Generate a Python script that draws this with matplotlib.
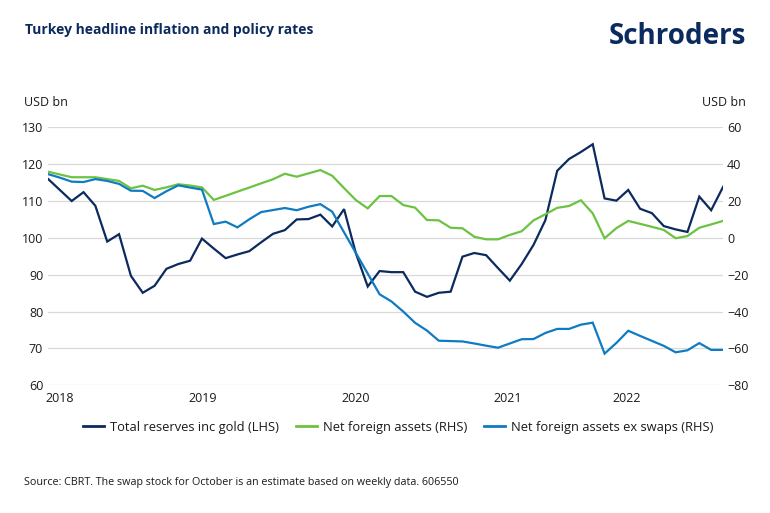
import matplotlib
matplotlib.use("Agg")
import matplotlib.pyplot as plt
from matplotlib.lines import Line2D
import numpy as np
import pandas as pd

# ---- data (monthly, Jan 2018 - Oct 2022) ----
months = pd.date_range("2018-01-01", periods=58, freq="MS")
total_reserves = [116.0, 113.0, 110.0, 112.4, 108.7, 99.0, 101.0, 89.7, 85.1, 87.0,
                  91.6, 92.9, 93.8, 99.8, 97.1, 94.5, 95.5, 96.4, 98.8, 101.1,
                  102.1, 105.0, 105.1, 106.3, 103.1, 107.8, 95.8, 86.8, 91.0, 90.7,
                  90.7, 85.4, 84.0, 85.1, 85.4, 94.9, 95.9, 95.3, 91.8, 88.4,
                  92.9, 98.1, 104.8, 118.2, 121.4, 123.3, 125.4, 110.7, 110.1, 113.0,
                  107.9, 106.7, 103.2, 102.3, 101.6, 111.2, 107.5, 113.8]
net_foreign_assets = [35.9, 34.4, 32.9, 32.9, 32.9, 31.9, 30.9, 26.9, 28.3, 26.0,
                      27.4, 29.1, 28.4, 27.4, 20.6, 22.8, 25.1, 27.3, 29.6, 31.8,
                      34.8, 33.2, 35.0, 36.8, 33.7, 27.0, 20.5, 16.0, 22.7, 22.7,
                      17.8, 16.4, 9.7, 9.5, 5.5, 5.2, 0.6, -0.8, -0.8, 1.6,
                      3.6, 9.5, 12.8, 16.3, 17.3, 20.4, 13.3, -0.2, 5.3, 9.2,
                      7.6, 6.0, 4.3, -0.2, 1.0, 5.5, 7.3, 9.2]
nfa_ex_swaps = [34.6, 32.7, 30.5, 30.3, 31.9, 30.9, 29.3, 25.6, 25.5, 21.6,
                25.3, 28.5, 27.3, 26.2, 7.5, 8.8, 5.7, 10.1, 14.0, 15.1,
                16.2, 15.0, 16.9, 18.3, 14.2, 3.0, -8.2, -19.4, -30.6, -34.5,
                -40.0, -46.1, -50.3, -55.8, -56.0, -56.2, -57.3, -58.5, -59.6, -57.3,
                -55.0, -54.9, -51.6, -49.4, -49.4, -47.1, -46.0, -62.8, -57.0, -50.4,
                -53.2, -55.9, -58.6, -62.1, -61.0, -57.1, -60.8, -60.8]
year_labels = ["2018", "2019", "2020", "2021", "2022"]
year_label_pos = [0.97, 13.1, 26.0, 38.8, 48.9]   # positions in month index units
left_ticks = [60, 70, 80, 90, 100, 110, 120, 130]
right_ticks = [-80, -60, -40, -20, 0, 20, 40, 60]
series_names = ["Total reserves inc gold (LHS)", "Net foreign assets (RHS)",
                "Net foreign assets ex swaps (RHS)"]

NAVY = "#0b2a5e"
GREEN = "#6cc241"
BLUE = "#0f7bc2"
GRID = "#d9d9d9"
TXT = "#1a1a1a"

plt.rcParams["font.family"] = ["Open Sans", "DejaVu Sans"]

W, H = 770, 513
fig = plt.figure(figsize=(W / 100, H / 100), dpi=100)
ax = fig.add_axes([48 / W, 1 - 385.3 / H, (723 - 48) / W, (385.3 - 127.3) / H])
ax2 = ax.twinx()

x = np.arange(len(months))
ax.plot(x, total_reserves, color=NAVY, lw=1.6, solid_joinstyle="miter")
ax2.plot(x, net_foreign_assets, color=GREEN, lw=1.6, solid_joinstyle="miter")
ax2.plot(x, nfa_ex_swaps, color=BLUE, lw=1.6, solid_joinstyle="miter")

ax.set_xlim(0, len(months) - 1)
ax.set_ylim(60, 130)
ax2.set_ylim(-80, 60)
ax.set_yticks(left_ticks)
ax2.set_yticks(right_ticks)
ax.set_xticks(year_label_pos)
ax.set_xticklabels(year_labels)
ax.yaxis.grid(True, color=GRID, lw=0.9)
ax.set_axisbelow(True)
for a in (ax, ax2):
    for s in a.spines.values():
        s.set_visible(False)
ax.tick_params(axis="y", length=0, pad=3.5, labelsize=9, labelcolor=TXT)
ax2.tick_params(axis="y", length=0, pad=3.0, labelsize=9, labelcolor=TXT)
ax.tick_params(axis="x", length=0, pad=5, labelsize=9, labelcolor=TXT)

fig.text(25 / W, 1 - 30 / H, "Turkey headline inflation and policy rates",
         fontsize=10, fontweight="bold", color=NAVY, va="center", ha="left")
fig.text(746 / W, 1 - 37 / H, "Schroders", fontsize=20, fontweight="bold",
         color=NAVY, va="center", ha="right")
fig.text(24 / W, 1 - 103 / H, "USD bn", fontsize=9, color=TXT, va="center", ha="left")
fig.text(746 / W, 1 - 103 / H, "USD bn", fontsize=9, color=TXT, va="center", ha="right")

handles = [Line2D([], [], color=c, lw=2) for c in (NAVY, GREEN, BLUE)]
fig.legend(handles, series_names, loc="center", bbox_to_anchor=(398.5 / W, 1 - 427 / H),
           ncol=3, frameon=False, fontsize=9.3, handlelength=1.6, handletextpad=0.5,
           columnspacing=1.3, labelcolor=TXT)

fig.text(24 / W, 1 - 483 / H,
         "Source: CBRT. The swap stock for October is an estimate based on weekly data. 606550",
         fontsize=7.75, color=TXT, va="center", ha="left")

fig.savefig("out.png", dpi=100)
